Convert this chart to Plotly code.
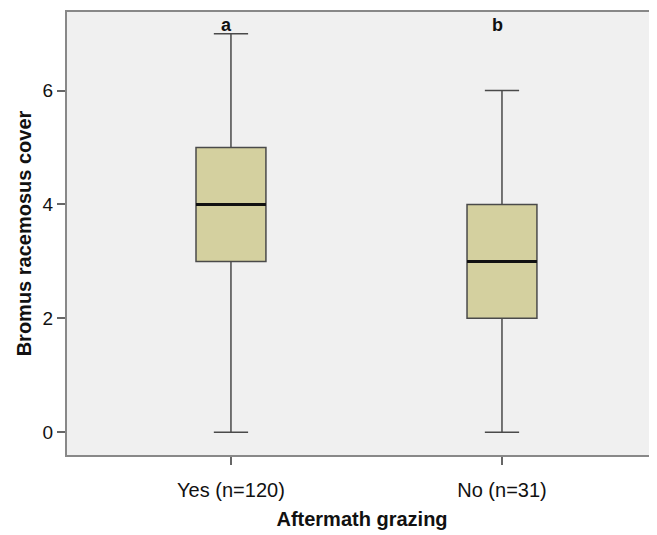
import plotly.graph_objects as go

categories = ["Yes (n=120)", "No (n=31)"]
q1 = [3, 2]
median = [4, 3]
q3 = [5, 4]
lower = [0, 0]
upper = [7, 6]
letters = ["a", "b"]
yticks = [0, 2, 4, 6]

xpos = [0, 1]
box_w = 0.258
font = "Liberation Sans, Arial, sans-serif"
letter_y = max(upper)

fig = go.Figure()
for i in range(len(categories)):
    fig.add_trace(go.Box(
        x=[xpos[i]], q1=[q1[i]], median=[median[i]], q3=[q3[i]],
        lowerfence=[lower[i]], upperfence=[upper[i]],
        width=box_w, whiskerwidth=0.49,
        fillcolor="#d4d09f", line=dict(color="#4a4a4a", width=1.5),
        boxpoints=False, showlegend=False, hoverinfo="skip",
    ))
    fig.add_trace(go.Scatter(
        x=[xpos[i] - box_w / 2, xpos[i] + box_w / 2], y=[median[i], median[i]],
        mode="lines", line=dict(color="#111111", width=3),
        showlegend=False, hoverinfo="skip",
    ))
    fig.add_annotation(x=xpos[i], y=letter_y, text="<b>%s</b>" % letters[i],
                       showarrow=False, yanchor="bottom", xshift=-4, yshift=-3,
                       font=dict(family=font, size=18, color="#111"))

fig.update_layout(
    width=649, height=527,
    margin=dict(l=59, r=0, t=4, b=80, autoexpand=False),
    paper_bgcolor="white", plot_bgcolor="#f0f0f0",
    font=dict(family=font, color="#111"),
    xaxis=dict(
        range=[-0.605, 1.572], tickvals=xpos, ticktext=categories,
        ticks="outside", ticklen=8, tickcolor="#666", tickwidth=1.5,
        showline=True, linecolor="#888", linewidth=2, mirror=True,
        showgrid=False, zeroline=False, automargin=False,
        ticklabelstandoff=8,
        tickfont=dict(size=20, family=font, color="#111"),
        title=dict(text="<b>Aftermath grazing</b>", standoff=12,
                   font=dict(size=20, family=font, color="#111")),
    ),
    yaxis=dict(
        range=[-0.40, 7.38], tickvals=yticks,
        ticks="outside", ticklen=8, tickcolor="#666", tickwidth=1.5,
        showline=True, linecolor="#888", linewidth=2,
        showgrid=False, zeroline=False, automargin=False,
        tickfont=dict(size=19, family=font, color="#111"),
        title=dict(text="<b>Bromus racemosus cover</b>", standoff=6,
                   font=dict(size=20, family=font, color="#111")),
    ),
)

fig.write_html("out.html")
